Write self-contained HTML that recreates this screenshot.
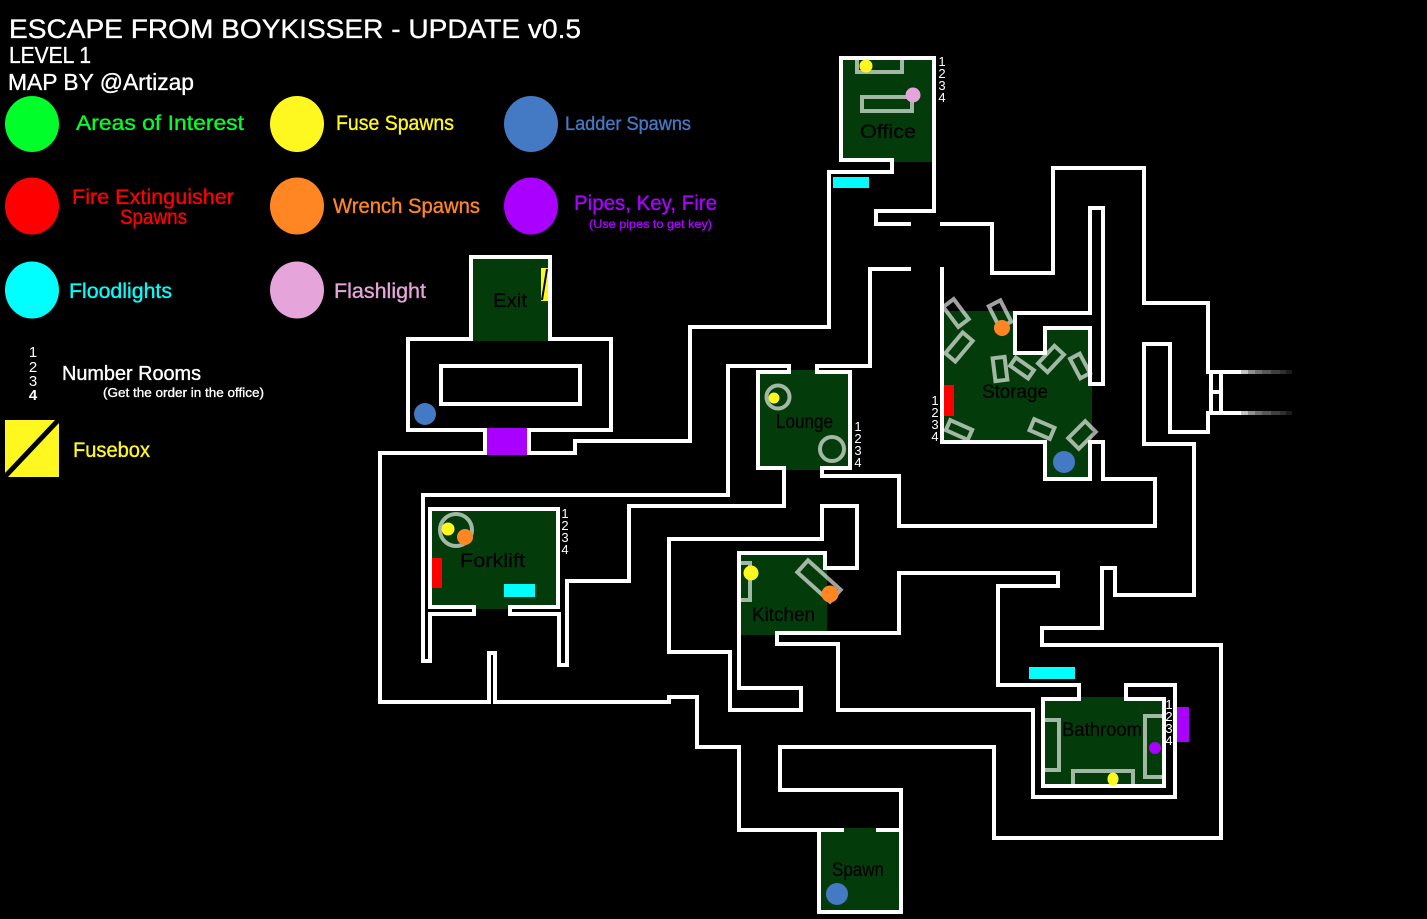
<!DOCTYPE html>
<html><head><meta charset="utf-8"><style>
html,body{margin:0;padding:0;background:#000;width:1427px;height:919px;overflow:hidden}
svg{display:block}
text{font-family:"Liberation Sans",sans-serif}
.w{fill:none;stroke:#fff;stroke-width:4;stroke-linejoin:miter;shape-rendering:crispEdges}
.f{fill:none;stroke:#fff;stroke-opacity:.63;stroke-width:4}
.n{fill:#fff;font-size:13px;text-anchor:middle}
.l{fill:#000;font-size:19px;stroke:#000;stroke-width:.2}
.t text{stroke:currentColor;stroke-width:.35}
</style></head><body>
<svg width="1427" height="919" viewBox="0 0 1427 919" xmlns="http://www.w3.org/2000/svg">
<rect width="1427" height="919" fill="#000"/>

<!-- green rooms -->
<g fill="#033c0a" shape-rendering="crispEdges">
<rect x="473" y="259" width="75" height="82"/>
<rect x="432" y="511" width="124" height="98"/>
<rect x="843" y="60" width="89" height="102"/>
<rect x="760" y="370" width="88" height="100"/>
<polygon points="944,311 1015,311 1015,355 1047,355 1047,330 1090,330 1090,386 1092,386 1092,440 1090,440 1090,477 1047,477 1047,440 944,440"/>
<rect x="741" y="555" width="86" height="80"/>
<rect x="1045" y="697" width="117" height="87"/>
<rect x="821" y="832" width="78" height="78"/>
<rect x="844" y="828" width="32" height="6"/>
</g>

<!-- furniture -->
<g class="f">
<path d="M857,60 V72 H902 V60"/>
<rect x="862" y="97" width="50" height="14"/>
<circle cx="778" cy="397" r="11.5"/>
<circle cx="832" cy="449" r="12"/>
<circle cx="456" cy="530" r="16"/>
<path d="M741,563 H750 V600 H741"/>
<rect x="-22" y="-8" width="44" height="16" transform="translate(819,581) rotate(42)"/>
<path d="M1045,720 H1059 V770 H1045"/>
<path d="M1162,716 H1145 V777 H1162"/>
<path d="M1073,784 V771 H1133 V784"/>
<rect x="-12.5" y="-6.5" width="25" height="13" transform="translate(956,313) rotate(53)"/>
<rect x="-13.5" y="-6.5" width="27" height="13" transform="translate(959,347) rotate(-50)"/>
<rect x="-12" y="-6.5" width="24" height="13" transform="translate(1000,314) rotate(63)"/>
<rect x="-11.5" y="-6" width="23" height="12" transform="translate(1000,369) rotate(83)"/>
<rect x="-11" y="-5" width="22" height="10" transform="translate(1022,368) rotate(35)"/>
<rect x="-12" y="-6.5" width="24" height="13" transform="translate(1051,359) rotate(-47)"/>
<rect x="-11" y="-5.5" width="22" height="11" transform="translate(1080,366) rotate(62)"/>
<rect x="-12" y="-5.5" width="24" height="11" transform="translate(959,430) rotate(24)"/>
<rect x="-11" y="-6" width="22" height="12" transform="translate(1042,429) rotate(23)"/>
<rect x="-12" y="-7.5" width="24" height="15" transform="translate(1082,435) rotate(-45)"/>
</g>

<!-- walls -->
<g class="w">
<path d="M911,224 H876 V211 H934 V58 H841 V160 H892 V172 H829 V327 H690 V441 H575 V453 H529 V430 H611 V339 H550 V257 H471 V339 H408 V430 H485 V453 H380 V702 H489 V653 H495 V702 H669 V697 H697 V747 H739 V830 H844"/>
<path d="M876,830 H901 V790 H780 V747 H994 V838 H1221 V645 H1042 V628 H1102 V568 H1115 V595 H1194 V444 H1144 V344 H1170 V432 H1208 V413 H1241"/>
<path d="M819,830 V912 H901 V830"/>
<path d="M940,224 H992 V273 H1053 V168 H1144 V303 H1208 V372 H1241"/>
<path d="M911,269 H870 V366 H817 V372 H850 V468 H822 V476 H899 V526 H1155 V479 H1103 V442 H1090 V479 H1045 V442 H942 V267"/>
<path d="M474,607 H430 V509 H558 V607 H510 V614 H559 V665 H567 V581 H629 V506 H784 V468 H758 V372 H789 V366 H728 V495 H423 V661 H430 V614 H474 Z"/>
<path d="M1015,313 H1090 V208 H1103 V384 H1090 V328 H1045 V353 H1015 Z"/>
<path d="M739,553 H825 V568 H857 V506 H822 V539 H669 V652 H730 V710 H801 V688 H739 Z"/>
<path d="M777,633 H899 V573 H1058 V586 H998 V685 H1079 V699 H1043 V786 H1164 V699 H1126 V685 H1175 V797 H1033 V710 H838 V644 H777 Z"/>
<rect x="441" y="366" width="139" height="38"/>
<path d="M1211,372 V413 M1221,372 V413 M1211,392 H1221"/>
</g>
<!-- stepped fade -->
<g shape-rendering="crispEdges">
<path d="M1241,372H1248M1241,413H1248" stroke="#c4c4c4" stroke-width="4"/>
<path d="M1248,372H1255M1248,413H1255" stroke="#909090" stroke-width="4"/>
<path d="M1255,372H1262M1255,413H1262" stroke="#707070" stroke-width="4"/>
<path d="M1262,372H1271M1262,413H1271" stroke="#585858" stroke-width="4"/>
<path d="M1271,372H1280M1271,413H1280" stroke="#404040" stroke-width="4"/>
<path d="M1280,372H1286M1280,413H1286" stroke="#303030" stroke-width="4"/>
<path d="M1286,372H1292M1286,413H1292" stroke="#1c1c1c" stroke-width="4"/>
</g>

<!-- items -->
<g shape-rendering="crispEdges">
<rect x="487" y="428" width="40" height="27" fill="#aa00ff"/>
<rect x="541" y="268" width="7" height="33" fill="#fff820"/>
<rect x="432" y="558" width="10" height="30" fill="#ff0000"/>
<rect x="504" y="584" width="31" height="13" fill="#00ffff"/>
<rect x="833" y="177" width="36" height="11" fill="#00ffff"/>
<rect x="944" y="385" width="10" height="31" fill="#ff0000"/>
<rect x="1029" y="667" width="46" height="12" fill="#00ffff"/>
<rect x="1177" y="707" width="12" height="35" fill="#aa00ff"/>
</g>
<line x1="547" y1="269" x2="542" y2="300" stroke="#000" stroke-width="2"/>
<circle cx="425" cy="414" r="11" fill="#4479c4"/>
<circle cx="448" cy="529" r="6.5" fill="#fff820"/>
<circle cx="465" cy="537" r="8" fill="#ff8622"/>
<circle cx="866" cy="66" r="6.5" fill="#fff820"/>
<circle cx="913" cy="95" r="7.5" fill="#e6a5da"/>
<circle cx="774" cy="398" r="5.5" fill="#fff820"/>
<circle cx="1002" cy="328" r="8" fill="#ff8622"/>
<circle cx="1064" cy="462" r="11" fill="#4479c4"/>
<circle cx="751" cy="573" r="7.5" fill="#fff820"/>
<circle cx="830" cy="594" r="8.5" fill="#ff8622"/>
<circle cx="1155" cy="748" r="6" fill="#aa00ff"/>
<ellipse cx="1113" cy="779" rx="5.5" ry="6.5" fill="#fff820"/>
<circle cx="837" cy="894" r="11" fill="#4479c4"/>

<!-- room labels -->
<text class="l" x="493" y="307" textLength="34" lengthAdjust="spacingAndGlyphs">Exit</text>
<text class="l" x="460" y="567" textLength="65" lengthAdjust="spacingAndGlyphs">Forklift</text>
<text class="l" x="860" y="138" textLength="56" lengthAdjust="spacingAndGlyphs">Office</text>
<text class="l" x="776" y="428" textLength="57" lengthAdjust="spacingAndGlyphs">Lounge</text>
<text class="l" x="982" y="398" textLength="66" lengthAdjust="spacingAndGlyphs">Storage</text>
<text class="l" x="752" y="621" textLength="63" lengthAdjust="spacingAndGlyphs">Kitchen</text>
<text class="l" x="1062" y="736" textLength="80" lengthAdjust="spacingAndGlyphs">Bathroom</text>
<text class="l" x="832" y="876" textLength="52" lengthAdjust="spacingAndGlyphs">Spawn</text>

<!-- room numbers -->
<g class="n">
<text x="942" y="66">1</text><text x="942" y="78">2</text><text x="942" y="90">3</text><text x="942" y="102">4</text>
<text x="858" y="431">1</text><text x="858" y="443">2</text><text x="858" y="455">3</text><text x="858" y="467">4</text>
<text x="935" y="405">1</text><text x="935" y="417">2</text><text x="935" y="429">3</text><text x="935" y="441">4</text>
<text x="565" y="518">1</text><text x="565" y="530">2</text><text x="565" y="542">3</text><text x="565" y="554">4</text>
<text x="1169" y="709">1</text><text x="1169" y="721">2</text><text x="1169" y="733">3</text><text x="1169" y="745">4</text>
<text x="33" y="357" style="font-size:15px">1</text><text x="33" y="372" style="font-size:15px">2</text><text x="33" y="386" style="font-size:15px">3</text><text x="33" y="400" style="font-size:15px" font-weight="bold">4</text>
</g>

<!-- legend -->
<ellipse cx="32" cy="124" rx="27" ry="28" fill="#00ff2a"/>
<ellipse cx="297" cy="124" rx="27" ry="28" fill="#fff820"/>
<ellipse cx="531" cy="124" rx="27" ry="28" fill="#4479c4"/>
<ellipse cx="32" cy="206" rx="27" ry="28.5" fill="#ff0000"/>
<ellipse cx="297" cy="206" rx="27" ry="28.5" fill="#ff8622"/>
<ellipse cx="531" cy="206" rx="27" ry="28.5" fill="#aa00ff"/>
<ellipse cx="32" cy="290" rx="27" ry="28.5" fill="#00ffff"/>
<ellipse cx="297" cy="290" rx="27" ry="28.5" fill="#e6a5da"/>
<rect x="5" y="420" width="54" height="57" fill="#fff820" shape-rendering="crispEdges"/>
<polygon points="55,420 59,420 59,423 8,477 5,477 5,473" fill="#000"/>

<g class="t">
<text x="9" y="38" fill="#fff" color="#fff" font-size="27" textLength="572" lengthAdjust="spacingAndGlyphs">ESCAPE FROM BOYKISSER - UPDATE v0.5</text>
<text x="9" y="63" fill="#fff" color="#fff" font-size="23" textLength="82" lengthAdjust="spacingAndGlyphs">LEVEL 1</text>
<text x="8" y="90" fill="#fff" color="#fff" font-size="23" textLength="186" lengthAdjust="spacingAndGlyphs">MAP BY @Artizap</text>
<text x="76" y="130" fill="#00ff2a" color="#00ff2a" font-size="21" textLength="168" lengthAdjust="spacingAndGlyphs">Areas of Interest</text>
<text x="336" y="130" fill="#fff820" color="#fff820" font-size="21" textLength="118" lengthAdjust="spacingAndGlyphs">Fuse Spawns</text>
<text x="565" y="130" fill="#4479c4" color="#4479c4" font-size="19" textLength="126" lengthAdjust="spacingAndGlyphs">Ladder Spawns</text>
<text x="72" y="204" fill="#ff0000" color="#ff0000" font-size="21" textLength="162" lengthAdjust="spacingAndGlyphs">Fire Extinguisher</text>
<text x="120" y="224" fill="#ff0000" color="#ff0000" font-size="21" textLength="67" lengthAdjust="spacingAndGlyphs">Spawns</text>
<text x="333" y="213" fill="#ff8622" color="#ff8622" font-size="21" textLength="147" lengthAdjust="spacingAndGlyphs">Wrench Spawns</text>
<text x="574" y="210" fill="#aa00ff" color="#aa00ff" font-size="21" textLength="143" lengthAdjust="spacingAndGlyphs">Pipes, Key, Fire</text>
<text x="589" y="228" fill="#aa00ff" color="#aa00ff" font-size="12" textLength="123" lengthAdjust="spacingAndGlyphs">(Use pipes to get key)</text>
<text x="69" y="298" fill="#00ffff" color="#00ffff" font-size="21" textLength="103" lengthAdjust="spacingAndGlyphs">Floodlights</text>
<text x="334" y="298" fill="#e6a5da" color="#e6a5da" font-size="21" textLength="92" lengthAdjust="spacingAndGlyphs">Flashlight</text>
<text x="62" y="380" fill="#fff" color="#fff" font-size="20" textLength="139" lengthAdjust="spacingAndGlyphs">Number Rooms</text>
<text x="103" y="397" fill="#fff" color="#fff" font-size="13" textLength="161" lengthAdjust="spacingAndGlyphs">(Get the order in the office)</text>
<text x="73" y="457" fill="#fff820" color="#fff820" font-size="21" textLength="77" lengthAdjust="spacingAndGlyphs">Fusebox</text>
</g>
</svg>
</body></html>
